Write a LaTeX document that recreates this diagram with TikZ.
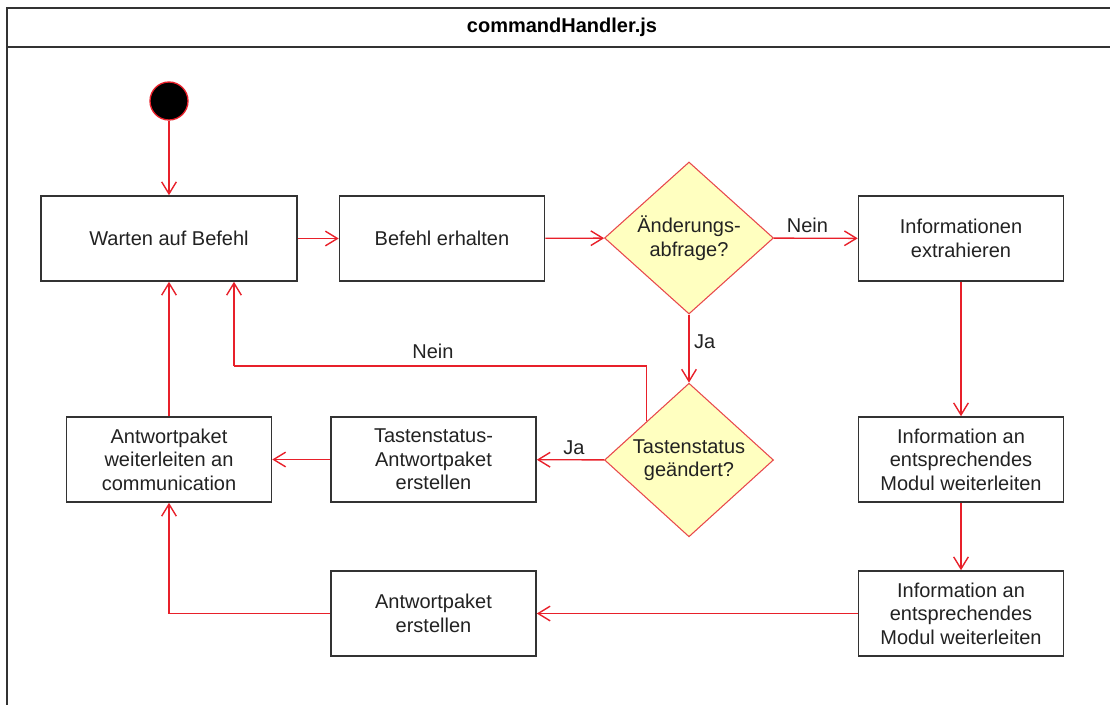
\documentclass[tikz,border=0pt]{standalone}
\usepackage{fontspec}
\setmainfont{Liberation Sans}
\usetikzlibrary{shapes.geometric,arrows.meta,calc}
\definecolor{edgered}{HTML}{E8202A}
\definecolor{boxgray}{HTML}{333333}
\definecolor{decfill}{HTML}{FFFFC0}
\definecolor{decline}{HTML}{E8484C}
\definecolor{txt}{HTML}{222222}

\begin{document}
\begin{tikzpicture}[x=0.75pt,y=-0.75pt,
  every node/.style={font=\fontsize{15}{17.6}\selectfont,text=txt},
  action/.style={draw=boxgray,line width=1.2pt,fill=white,rectangle,
    minimum width=153.75pt,minimum height=63.75pt,align=center,inner sep=0pt},
  decision/.style={diamond,draw=decline,line width=0.8pt,fill=decfill,
    minimum width=126.75pt,minimum height=114pt,inner sep=0pt,align=center},
  flow/.style={draw=edgered,line width=1.05pt,-{Straight Barb[length=9pt,width=11pt]}},
  link/.style={draw=edgered,line width=1.05pt}]

\useasboundingbox (0,0) rectangle (1110,704);

% swimlane frame with title bar
\draw[boxgray,line width=1.6pt] (7,712) -- (7,8) -- (1120,8) (7,47) -- (1120,47);
\node[font=\bfseries\fontsize{15}{17.6}\selectfont,text=black] (title) at (562,27) {commandHandler.js};

% states
\node[circle,fill=black,draw=edgered,line width=1pt,minimum size=28.5pt,inner sep=0pt] (start) at (169,101) {};
\node[action,minimum width=192pt] (wait) at (169,238.5) {Warten auf Befehl};
\node[action] (recv) at (442,238.5) {Befehl erhalten};
\node[decision] (chg) at (689,238) {Änderungs-\\abfrage?};
\node[action] (extract) at (961,238.5) {Informationen\\extrahieren};
\node[decision] (key) at (689,460) {Tastenstatus\\geändert?};
\node[action] (keypkt) at (433.5,459.5) {Tastenstatus-\\Antwortpaket\\erstellen};
\node[action] (forward) at (169,459.5) {Antwortpaket\\weiterleiten an\\communication};
\node[action] (mod1) at (961,459.5) {Information an\\entsprechendes\\Modul weiterleiten};
\node[action] (mod2) at (961,613.5) {Information an\\entsprechendes\\Modul weiterleiten};
\node[action] (pkt) at (433.5,613.5) {Antwortpaket\\erstellen};

% transitions
\draw[flow] (start) -- (wait);
\draw[flow] (wait) -- (recv);
\draw[flow] (recv) -- (chg);
\draw[flow] (chg) -- node[above,pos=0.4] {Nein} (extract);
\draw[flow] (chg) -- node[right,pos=0.4] {Ja} (key);
\draw[flow] (key) -- node[above,pos=0.45] {Ja} (keypkt);
\draw[flow] (keypkt) -- (forward);
\draw[flow] (forward) -- (wait);

% "Nein" branch of the key-state decision back to the waiting state
\coordinate (back) at (234,366);
\draw[link] ($(key.north)!0.5!(key.west)$) |- (back);
\draw[flow] (back) -- (back |- wait.south);
\node (nein2) at (433,351) {Nein};

\draw[flow] (extract) -- (mod1);
\draw[flow] (mod1) -- (mod2);
\draw[flow] (mod2) -- (pkt);
\draw[flow] (pkt) -| (forward);

\end{tikzpicture}
\end{document}
